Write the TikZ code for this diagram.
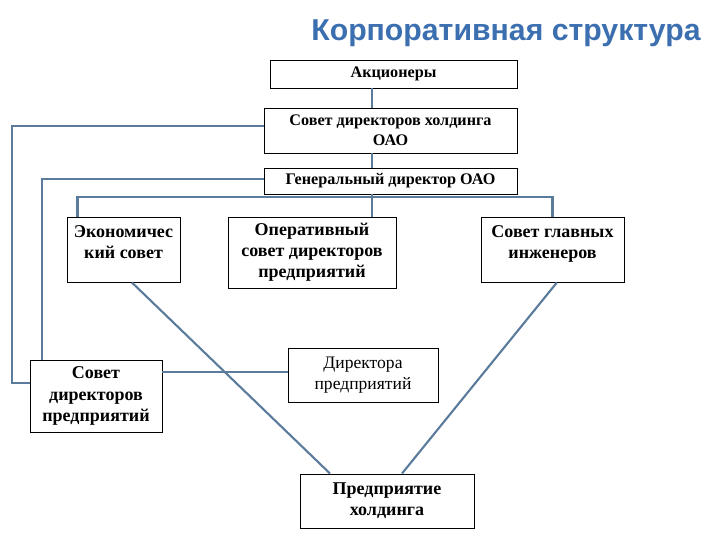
\documentclass[tikz,border=0pt]{standalone}
\usepackage{fontspec}
\setmainfont{Liberation Serif}
\newfontfamily\titlefont{Liberation Sans}
\usetikzlibrary{positioning,calc}
\definecolor{linkblue}{HTML}{5B7B9C}
\definecolor{titleblue}{HTML}{3B6FB0}

\begin{document}
\begin{tikzpicture}[
  font=\fontsize{11.5}{14}\selectfont\bfseries,
  unit/.style={draw=black, line width=0.7pt, fill=white, align=center, inner sep=2pt},
  lower/.style={unit, font=\fontsize{12.8}{15}\selectfont\bfseries},
  link/.style={draw=linkblue, line width=1.5pt},
]
\useasboundingbox (0,0) rectangle (18,-13.5);
% helper coordinates for the vertical spine and the left loops
\coordinate (spine) at (9.3,0);
\coordinate (bus)   at (0,-4.925);
\coordinate (outer) at (0.3,0);
\coordinate (inner) at (1.05,0);

% title
\node[font=\titlefont\fontsize{21.5}{24}\selectfont\bfseries, text=titleblue] (title) at (12.65,-0.825)
     {Корпоративная структура};

% ================= top chain =================
\node[unit, minimum width=6.175cm, minimum height=0.7cm] (share) at (9.8375,-1.85) {Акционеры};
\node[unit, minimum width=6.325cm, minimum height=1.125cm] (board) at (9.7625,-3.2625)
     {Совет директоров холдинга\\ОАО};
\node[unit, minimum width=6.325cm, minimum height=0.65cm] (ceo) at (9.7625,-4.525)
     {Генеральный директор ОАО};

% ================= councils =================
\node[lower, minimum width=2.825cm, minimum height=1.625cm] (econ) at (3.0875,-6.2375)
     {Экономичес\\кий совет\\[-5pt]~};
\node[lower, minimum width=4.2cm, minimum height=1.775cm] (oper) at (7.8,-6.3125)
     {Оперативный\\совет директоров\\предприятий};
\node[lower, minimum width=3.575cm, minimum height=1.625cm] (eng) at (13.8125,-6.2375)
     {Совет главных\\инженеров\\[-5pt]~};

% ================= lower level =================
\node[lower, minimum width=3.3cm, minimum height=1.8cm] (subboard) at (2.4,-9.9)
     {Совет\\директоров\\предприятий};
\node[lower, minimum width=3.75cm, minimum height=1.35cm, font=\fontsize{12.5}{14.5}\selectfont] (dirs) at (9.075,-9.375)
     {Директора\\предприятий};
\node[lower, minimum width=4.35cm, minimum height=1.35cm] (firm) at (9.675,-12.525)
     {Предприятие\\холдинга};

% ================= connectors =================
\draw[link] (share.south -| spine) -- (board.north -| spine);
\draw[link] (board.south -| spine) -- (ceo.north -| spine);
\draw[link] (ceo.south -| spine) -- (oper.north -| spine);
\draw[link] ([xshift=2.75mm]econ.north west) |- (eng.north |- bus) -- (eng.north);
\draw[link] ([yshift=1.1mm]board.west) -| ([yshift=3.25mm]subboard.west -| outer)
            -- ([yshift=3.25mm]subboard.west);
\draw[link] ([yshift=0.5mm]ceo.west) -| (subboard.north -| inner);
\draw[link] ([yshift=6mm]subboard.east) -- ([yshift=6mm]subboard.east -| dirs.west);
\draw[link] ([xshift=2.1mm]econ.south) -- ([xshift=-14.25mm]firm.north);
\draw[link] ([xshift=1.1mm]eng.south) -- ([xshift=3.75mm]firm.north);
\end{tikzpicture}
\end{document}
